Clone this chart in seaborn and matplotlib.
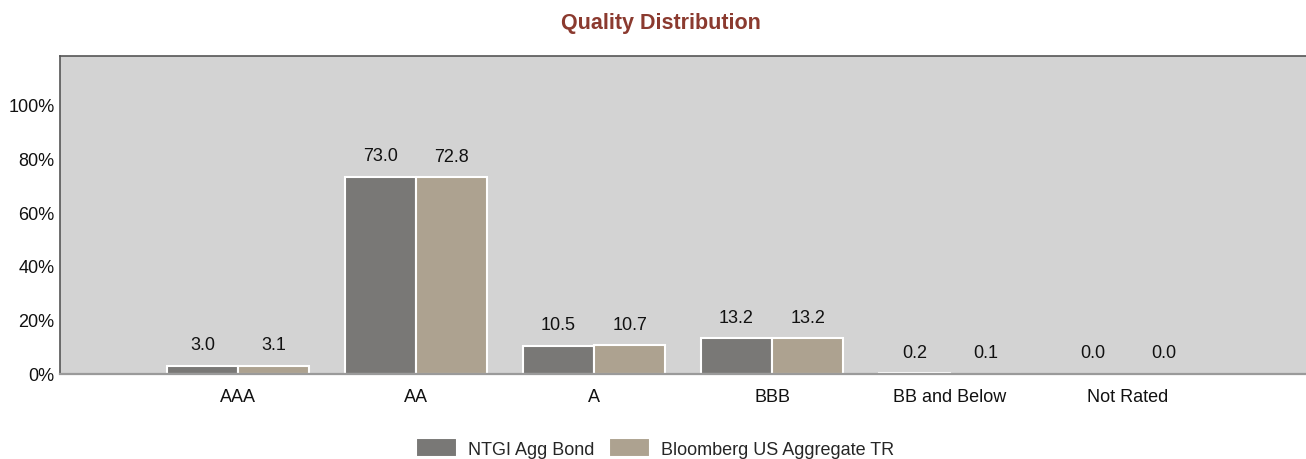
import matplotlib
matplotlib.use("Agg")
import matplotlib.pyplot as plt
import seaborn as sns
import pandas as pd

# datos
categorias = ['AAA', 'AA', 'A', 'BBB', 'BB and Below', 'Not Rated']
fondo = [3.0, 73.0, 10.5, 13.2, 0.2, 0.0]
indice = [3.1, 72.8, 10.7, 13.2, 0.1, 0.0]
series = ['NTGI Agg Bond', 'Bloomberg US Aggregate TR']
colores = ['#797876', '#ADA290']

df = pd.DataFrame({
    'categoria': categorias * 2,
    'valor': fondo + indice,
    'serie': [series[0]] * len(categorias) + [series[1]] * len(categorias),
})

sns.set_style("white")
plt.rcParams['font.family'] = ['Liberation Sans', 'DejaVu Sans']

fig = plt.figure(figsize=(13.06, 4.6), dpi=100)
ax = fig.add_axes([0.046, 0.185, 0.954, 0.691])
ax.set_facecolor('#D3D3D3')

sns.barplot(data=df, x='categoria', y='valor', hue='serie', palette=colores,
            order=categorias, hue_order=series, width=0.8, saturation=1,
            edgecolor='white', linewidth=1.5, ax=ax)

# etiquetas de valor
for cont in ax.containers:
    ax.bar_label(cont, fmt='%.1f', padding=9, fontsize=13, color='#111111')

ax.set_xlim(-1, 6)
ax.set_ylim(0, 117.8)
ax.set_yticks([0, 20, 40, 60, 80, 100])
ax.set_yticklabels(['0%', '20%', '40%', '60%', '80%', '100%'])
ax.tick_params(axis='both', labelsize=13, length=0, colors='#111111')
ax.tick_params(axis='x', pad=10)
ax.tick_params(axis='y', pad=4)
ax.set_xlabel('')
ax.set_ylabel('')

for lado in ['left', 'top']:
    ax.spines[lado].set_color('#555555')
    ax.spines[lado].set_linewidth(1.2)
ax.spines['bottom'].set_color('#9A9A9A')
ax.spines['bottom'].set_linewidth(1.6)
ax.spines['right'].set_visible(False)

fig.suptitle('Quality Distribution', x=0.506, y=0.972, fontsize=15.5,
             fontweight='bold', color='#8B3A2F')

handles, labels = ax.get_legend_handles_labels()
ax.get_legend().remove()
fig.legend(handles, labels, loc='center', bbox_to_anchor=(0.5015, 0.024),
           ncol=2, frameon=False, fontsize=13, handlelength=2.3,
           handleheight=1.2, handletextpad=0.6, columnspacing=0.8)

plt.savefig('out.png', dpi=100)
